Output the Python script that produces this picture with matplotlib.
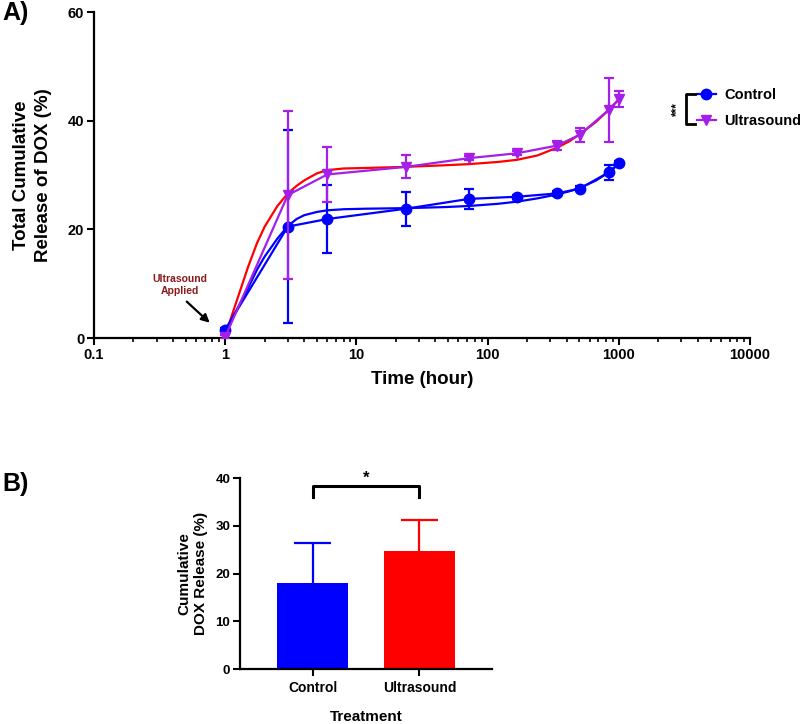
import matplotlib
matplotlib.use("Agg")
import matplotlib.pyplot as plt
from matplotlib.lines import Line2D
import numpy as np

plt.rcParams['font.family'] = ['Liberation Sans', 'DejaVu Sans']
plt.rcParams['font.weight'] = 'bold'
plt.rcParams['axes.labelweight'] = 'bold'

# ---------------- data ----------------
time_h = [1, 3, 6, 24, 72, 168, 336, 504, 840, 1008]
control_mean = [1.5, 20.5, 21.9, 23.8, 25.6, 26.0, 26.6, 27.5, 30.5, 32.2]
control_sd = [0.3, 17.7, 6.2, 3.1, 1.8, 0.4, 0.4, 0.5, 1.4, 0.3]
ultrasound_mean = [0.2, 26.3, 30.1, 31.5, 33.1, 34.0, 35.4, 37.4, 42.0, 44.0]
ultrasound_sd = [0.3, 15.4, 5.1, 2.1, 0.4, 0.4, 0.8, 1.25, 5.9, 1.5]

fit_time = [1, 1.25, 1.5, 1.75, 2, 2.5, 3, 3.5, 4, 5, 6, 8, 12, 24, 48, 72,
            120, 168, 240, 336, 420, 504, 672, 840, 1008]
control_fit = [1.3, 5.6, 9.3, 12.6, 15.0, 18.3, 20.6, 21.9, 22.6, 23.2, 23.5,
               23.7, 23.8, 23.9, 24.1, 24.3, 24.7, 25.1, 25.7, 26.4, 27.0,
               27.6, 29.0, 30.5, 32.1]
ultrasound_fit = [0.5, 7.5, 13.2, 17.5, 20.5, 24.3, 26.6, 28.0, 29.0, 30.3,
                  30.9, 31.2, 31.3, 31.5, 31.8, 32.0, 32.4, 32.8, 33.6, 35.0,
                  36.2, 37.5, 39.8, 42.0, 44.0]

x_ticks = [0.1, 1, 10, 100, 1000, 10000]
x_tick_labels = ['0.1', '1', '10', '100', '1000', '10000']
y_ticks_a = [0, 20, 40, 60]

treatments = ['Control', 'Ultrasound']
release_mean = [18.1, 24.7]
release_sd = [8.3, 6.5]
y_ticks_b = [0, 10, 20, 30, 40]

BLUE = '#0000FF'
PURPLE = '#A41FE8'
RED = '#FF0000'

W, H = 800, 724
fig = plt.figure(figsize=(W / 100, H / 100), dpi=100)

# ---------------- panel A ----------------
ax1 = fig.add_axes([94 / W, 1 - 338 / H, (750 - 94) / W, (338 - 12) / H])
ax1.set_xscale('log')
ax1.set_xlim(0.1, 10000)
ax1.set_ylim(0, 60)

ax1.plot(fit_time, ultrasound_fit, color=RED, lw=1.6, zorder=2)
ax1.plot(fit_time, control_fit, color=BLUE, lw=1.6, zorder=2)

ax1.errorbar(time_h, control_mean, yerr=control_sd, color=BLUE, marker='o',
             ms=7.5, lw=1.6, elinewidth=1.6, capsize=3.3, capthick=1.6,
             zorder=3)
ax1.errorbar(time_h, ultrasound_mean, yerr=ultrasound_sd, color=PURPLE,
             marker='v', ms=7.5, lw=1.6, elinewidth=1.6, capsize=3.3,
             capthick=1.6, zorder=4)

ax1.set_xticks(x_ticks)
ax1.set_xticklabels(x_tick_labels)
ax1.set_yticks(y_ticks_a)
ax1.tick_params(axis='both', which='major', labelsize=10.5, length=5,
                width=1.5, direction='out', pad=2)
ax1.tick_params(axis='x', which='minor', length=3, width=1.2, direction='out')
for lab in ax1.get_xticklabels() + ax1.get_yticklabels():
    lab.set_fontweight('bold')
for s in ['top', 'right']:
    ax1.spines[s].set_visible(False)
for s in ['left', 'bottom']:
    ax1.spines[s].set_linewidth(1.6)

ax1.set_ylabel('Total Cumulative\nRelease of DOX (%)', fontsize=13.5,
               fontweight='bold', linespacing=1.35)
ax1.yaxis.set_label_coords(-0.064, 0.5)
ax1.set_xlabel('Time (hour)', fontsize=13.5, fontweight='bold')
ax1.xaxis.set_label_coords(0.5, -0.1)

ax1.text(0.451, 9.75, 'Ultrasound\nApplied', color='#8B1A1A', fontsize=7.5,
         fontweight='bold', ha='center', va='center', linespacing=1.3)
ax1.annotate('', xy=(0.762, 2.8), xytext=(0.509, 6.7),
             arrowprops=dict(arrowstyle='-|>', color='black', lw=1.6,
                             mutation_scale=12, shrinkA=0, shrinkB=0))

handles = [Line2D([], [], color=BLUE, marker='o', ms=7.5, lw=1.6),
           Line2D([], [], color=PURPLE, marker='v', ms=7.5, lw=1.6)]
leg = ax1.legend(handles, treatments, loc='upper left',
                 bbox_to_anchor=(697 / W, 1 - 88 / H),
                 bbox_transform=fig.transFigure, frameon=False,
                 fontsize=10.5, handlelength=1.3, handletextpad=0.55,
                 labelspacing=0.8, borderpad=0, borderaxespad=0)
for t in leg.get_texts():
    t.set_fontweight('bold')

# significance bracket next to legend
fig.add_artist(Line2D([695 / W, 686 / W, 686 / W, 695 / W],
                      [1 - 94 / H, 1 - 94 / H, 1 - 124 / H, 1 - 124 / H],
                      color='black', lw=2.0))
fig.text(677 / W, 1 - 109 / H, '***', rotation=90, fontsize=8.5,
         fontweight='bold', ha='center', va='center')

# ---------------- panel B ----------------
ax2 = fig.add_axes([240 / W, 1 - 669 / H, (492 - 240) / W, (669 - 478) / H])
pos = np.arange(len(treatments))
bar_colors = [BLUE, RED]
ax2.bar(pos, release_mean, width=0.66, color=bar_colors, zorder=2)
tops = np.array(release_mean) + np.array(release_sd)
ax2.vlines(pos, release_mean, tops, colors=bar_colors, lw=1.6, zorder=1)
ax2.hlines(tops, pos - 0.175, pos + 0.175, colors=bar_colors, lw=1.6, zorder=1)
ax2.set_xlim(-0.678, 1.678)
ax2.set_ylim(0, 40)
ax2.set_yticks(y_ticks_b)
ax2.set_xticks(pos)
ax2.set_xticklabels(treatments)
ax2.tick_params(axis='y', labelsize=9.5, length=5, width=1.5, pad=2)
ax2.tick_params(axis='x', labelsize=10, length=5, width=1.5, pad=4)
for lab in ax2.get_xticklabels() + ax2.get_yticklabels():
    lab.set_fontweight('bold')
for s in ['top', 'right']:
    ax2.spines[s].set_visible(False)
for s in ['left', 'bottom']:
    ax2.spines[s].set_linewidth(1.6)

ax2.set_ylabel('Cumulative\nDOX Release (%)', fontsize=11, fontweight='bold',
               linespacing=1.25)
ax2.yaxis.set_label_coords(-0.128, 0.5)
ax2.set_xlabel('Treatment', fontsize=11, fontweight='bold')
ax2.xaxis.set_label_coords(0.5, -0.215)

ax2.plot([pos[0], pos[0], pos[1], pos[1]], [36.0, 38.3, 38.3, 36.0],
         color='black', lw=2.2, clip_on=False)
ax2.text((pos[0] + pos[1]) / 2, 38.4, '*', ha='center', va='bottom',
         fontsize=12, fontweight='bold')

fig.text(2 / W, 1 - 1 / H, 'A)', fontsize=18, fontweight='bold',
         ha='left', va='top')
fig.text(2 / W, 1 - 472 / H, 'B)', fontsize=18, fontweight='bold',
         ha='left', va='top')

fig.savefig('out.png', dpi=100)
